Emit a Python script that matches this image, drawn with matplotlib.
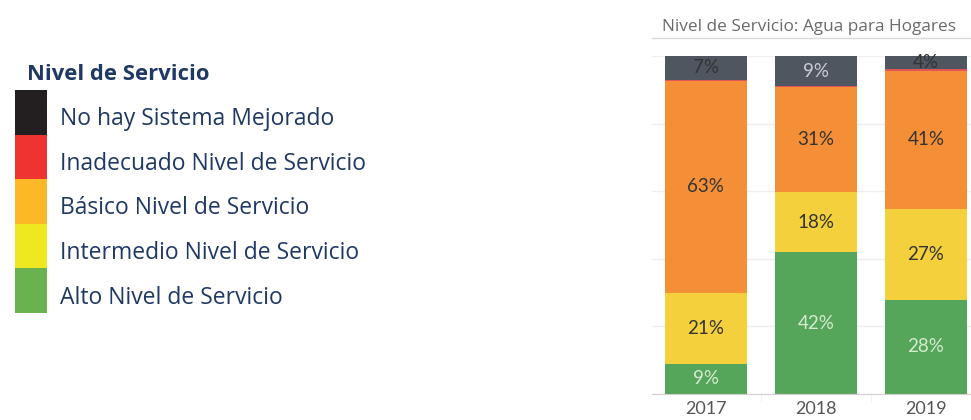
import matplotlib
matplotlib.use("Agg")
import matplotlib.pyplot as plt
import numpy as np
from matplotlib.patches import Rectangle

years = ["2017", "2018", "2019"]
alto = [9, 42, 28]
intermedio = [21, 18, 27]
basico = [63, 31, 41]
inadecuado = [0.4, 0.3, 0.4]
no_hay = [7, 9, 4]

legend_title = "Nivel de Servicio"
legend_labels = ["No hay Sistema Mejorado", "Inadecuado Nivel de Servicio",
                 "Básico Nivel de Servicio", "Intermedio Nivel de Servicio",
                 "Alto Nivel de Servicio"]
legend_colors = ["#231F20", "#EE3431", "#FDB827", "#EEE820", "#6AB150"]
chart_title = "Nivel de Servicio: Agua para Hogares"

series = [alto, intermedio, basico, inadecuado, no_hay]
colors = ["#55A55A", "#F3D03C", "#F58F37", "#E15759", "#4F5660"]
label_colors = [
    ["#D6EAD0", "#D6EAD0", "#D6EAD0"],
    ["#333333", "#333333", "#333333"],
    ["#333333", "#333333", "#333333"],
    [None, None, None],
    ["#333333", "#C9CDD3", "#333333"],
]

plt.rcParams['font.family'] = ['Lato', 'DejaVu Sans']

fig = plt.figure(figsize=(9.71, 4.2), dpi=100)
W, H = 971, 420

# Legend (left)
fig.text(27 / W, 1 - 75 / H, legend_title, fontsize=15.8, fontweight='bold',
         color="#1F3864", va='center', ha='left', family=['Open Sans', 'DejaVu Sans'])
sw_top = 90
sw_h = 44.6
for i, (lab, col) in enumerate(zip(legend_labels, legend_colors)):
    y0 = sw_top + i * sw_h
    fig.patches.append(Rectangle((15 / W, 1 - (y0 + sw_h) / H), 32 / W, sw_h / H,
                                 transform=fig.transFigure, color=col, lw=0))
    fig.text(60 / W, 1 - (y0 + sw_h / 2 + 7) / H, lab, fontsize=16.5, color="#1F3864",
             va='center', ha='left', family=['Open Sans', 'DejaVu Sans'])

# Chart title and separator line
fig.text(662 / W, 1 - 27 / H, chart_title, fontsize=12.4, color="#6B6B6B",
         va='center', ha='left', family=['Open Sans', 'DejaVu Sans'])
fig.add_artist(plt.Line2D([652 / W, 1.0], [1 - 38 / H, 1 - 38 / H],
                          transform=fig.transFigure, color="#D9D9D9", lw=1))

ax = fig.add_axes([652 / W, 1 - 394 / H, 319 / W, (394 - 56) / H])
x = np.arange(len(years))
totals = np.sum(np.array(series, dtype=float), axis=0)
bottom = np.zeros(len(years))
for s_idx, (vals, col) in enumerate(zip(series, colors)):
    v = np.array(vals, dtype=float) / totals * 100
    ax.bar(x, v, bottom=bottom, width=0.745, color=col, edgecolor='none', zorder=2)
    for j in range(len(years)):
        lc = label_colors[s_idx][j]
        if lc is not None:
            ax.text(x[j], bottom[j] + v[j] / 2, f"{vals[j]:.0f}%", ha='center', va='center',
                    fontsize=13.5, color=lc, zorder=3)
    bottom += v

ax.set_xlim(-0.49, 2.41)
ax.set_ylim(0, 100)
ax.set_yticks([0, 20, 40, 60, 80, 100])
ax.yaxis.grid(True, color="#EFEFEF", lw=1, zorder=0)
ax.tick_params(axis='y', left=False, labelleft=False)
ax.set_xticks(x)
ax.set_xticklabels(years, fontsize=13, color="#555555")
ax.tick_params(axis='x', length=0, pad=5)
ax.set_xticks([0.5, 1.5], minor=True)
ax.tick_params(axis='x', which='minor', length=6, color="#EEEEEE")
for sp in ['top', 'right', 'left']:
    ax.spines[sp].set_visible(False)
ax.spines['bottom'].set_color("#CFCFCF")

fig.savefig("out.png", dpi=100)
